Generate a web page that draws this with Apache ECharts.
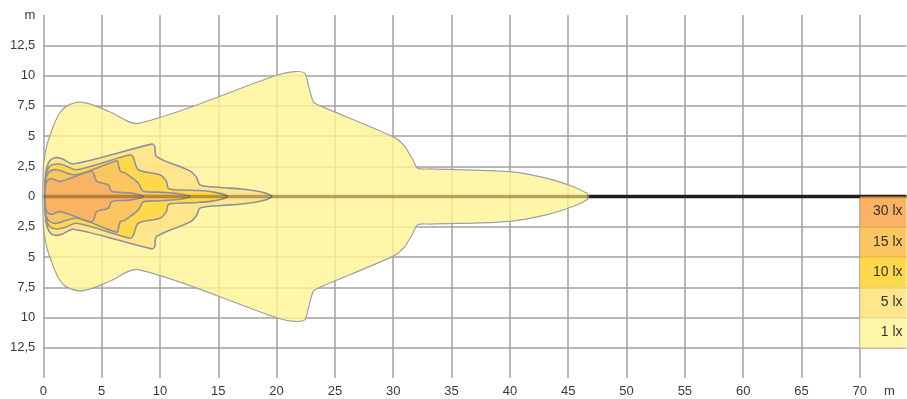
<!DOCTYPE html>
<html>
<head>
<meta charset="utf-8">
<script src="https://cdn.jsdelivr.net/npm/echarts@6.0.0/dist/echarts.min.js"></script>
<style>
html, body { margin: 0; padding: 0; background: #fff; }
#main { width: 907px; height: 399px; }
</style>
</head>
<body>
<div id="main"></div>
<script>
// upper half of each isolux contour: [distance m, half width m], lower half is the mirror image
const lux1 = [[0, 2.4], [0.3, 4.2], [0.6, 5.1], [0.9, 5.9], [1.4, 6.9], [2.0, 7.47], [3.15, 7.8], [4.3, 7.55],
  [5.7, 7.0], [8.15, 6.04], [20, 10.02], [21.5, 10.32], [22.4, 10.2], [22.7, 9.3], [23.15, 7.82], [23.6, 7.55],
  [30, 4.93], [30.9, 4.25], [31.7, 3.0], [32.1, 2.33], [33.2, 2.28], [40, 2.05], [43.2, 1.5], [45.45, 0.81],
  [46.6, 0.26], [46.7, 0]]
const lux5 = [[0.15, 0.9], [0.25, 2.2], [0.55, 2.95], [1.0, 3.2], [1.6, 3.12], [2.6, 2.7], [9.3, 4.33], [9.55, 4.15],
  [9.72, 3.3], [12.6, 2.1], [13.15, 1.55], [13.44, 0.95], [15.2, 0.75], [17.0, 0.62], [18.7, 0.37], [19.6, 0]]
const lux10 = [[0.15, 0.8], [0.25, 1.9], [0.55, 2.5], [1.15, 2.68], [1.85, 2.57], [2.86, 2.21], [7.44, 3.45], [7.7, 3.25],
  [8.15, 2.21], [10.0, 1.8], [10.55, 1.25], [10.75, 0.65], [12.7, 0.52], [14.5, 0.38], [15.8, 0]]
const lux15 = [[0.15, 0.7], [0.25, 1.6], [0.55, 2.08], [1.15, 2.21], [2.86, 1.8], [6.3, 2.95], [6.45, 2.6], [6.6, 2.08],
  [7.0, 1.95], [8.15, 1.11], [8.55, 0.45], [9.9, 0.36], [11.5, 0.25], [12.6, 0]]
const lux30 = [[0.15, 0.5], [0.3, 1.25], [0.72, 1.47], [1.43, 1.25], [4.0, 2.08], [4.3, 1.95], [4.58, 1.25],
  [5.57, 0.97], [5.86, 0.43], [7.44, 0.3], [8.6, 0]]

// centre line of the beam: inside the field / beyond it
const beamInside = [[0, 0], [46.7, 0]]
const beamOutside = [[46.7, 0], [74, 0]]

// key column on the right
const keyLabels = ['30 lx', '15 lx', '10 lx', '5 lx', '1 lx']
const keyTop = [0, -2.5, -5, -7.5, -10]
const keyBottom = [-2.5, -5, -7.5, -10, -12.5]
const keyX = [70, 74]

const keyColors = ['rgba(249,159,61,0.8)', 'rgba(250,182,56,0.8)', 'rgba(255,206,31,0.8)', 'rgba(255,222,111,0.8)', 'rgba(255,244,149,0.8)']

const chart = echarts.init(document.getElementById('main'))

function contour (points, fill, stroke, width, z) {
  return {
    type: 'custom',
    coordinateSystem: 'cartesian2d',
    silent: true,
    z: z,
    data: [[0, 0]],
    renderItem: function (params, api) {
      const upper = points.map(p => api.coord(p))
      const lower = points.filter(p => p[1] !== 0).reverse().map(p => api.coord([p[0], -p[1]]))
      return {
        type: 'polygon',
        shape: { points: upper.concat(lower), smooth: 0.3 },
        style: { fill: fill, stroke: stroke, lineWidth: width }
      }
    }
  }
}

const labelStyle = { color: '#3a3a3a', fontSize: 13, fontFamily: 'Liberation Sans' }

const option = {
  animation: false,
  grid: { left: 43.3, right: 0.5, top: 15, bottom: 21, outerBoundsMode: 'none' },
  xAxis: {
    type: 'value',
    min: 0,
    max: 74,
    interval: 5,
    axisLine: { show: false },
    axisTick: { show: false },
    splitLine: { show: true, showMaxLine: false, lineStyle: { color: '#a0a0a0', width: 1.5 } },
    axisLabel: {
      ...labelStyle,
      margin: 7,
      showMaxLabel: true,
      formatter: v => v === 74 ? '{u|m}' : String(v),
      rich: { u: { ...labelStyle, padding: [0, 34, 0, 0] } }
    }
  },
  yAxis: {
    type: 'value',
    min: -15,
    max: 15,
    interval: 2.5,
    axisLine: { show: false },
    axisTick: { show: false },
    splitLine: { show: true, showMinLine: false, showMaxLine: false, lineStyle: { color: '#a0a0a0', width: 1.5 } },
    axisLabel: {
      ...labelStyle,
      margin: 8,
      showMinLabel: true,
      showMaxLabel: true,
      formatter: v => v === 15 ? 'm' : (v === -15 ? '' : String(Math.abs(v)).replace('.', ','))
    }
  },
  series: [
    {
      type: 'line',
      data: beamOutside,
      symbol: 'none',
      silent: true,
      z: 1,
      lineStyle: { color: '#1e1e1e', width: 3.5 }
    },
    contour(lux1, 'rgba(255,244,149,0.8)', '#a0a0a0', 1.2, 2),
    contour(lux5, 'rgba(255,225,133,0.8)', '#8f9099', 1.6, 3),
    contour(lux10, 'rgba(255,213,60,0.8)', '#8f9099', 1.6, 4),
    contour(lux15, 'rgba(250,192,101,0.8)', '#8f9099', 1.6, 5),
    contour(lux30, 'rgba(250,173,101,0.8)', '#8f9099', 1.6, 6),
    {
      type: 'line',
      data: beamInside,
      symbol: 'none',
      silent: true,
      z: 10,
      lineStyle: { color: 'rgba(80,50,0,0.4)', width: 3.5 }
    },
    {
      type: 'custom',
      coordinateSystem: 'cartesian2d',
      silent: true,
      z: 7,
      data: keyLabels.map((l, i) => [keyX[0], keyTop[i]]),
      renderItem: function (params, api) {
        const i = params.dataIndex
        const p0 = api.coord([keyX[0], keyTop[i]])
        const p1 = api.coord([keyX[1], keyBottom[i]])
        return {
          type: 'group',
          children: [
            {
              type: 'rect',
              shape: { x: p0[0], y: p0[1], width: p1[0] - p0[0], height: p1[1] - p0[1] },
              style: { fill: keyColors[i] }
            },
            {
              type: 'text',
              x: p1[0] - 4,
              y: (p0[1] + p1[1]) / 2,
              style: {
                text: keyLabels[i],
                fill: '#333',
                font: '14px "Liberation Sans"',
                align: 'right',
                verticalAlign: 'middle'
              }
            }
          ]
        }
      }
    }
  ]
}

chart.setOption(option)
</script>
</body>
</html>
